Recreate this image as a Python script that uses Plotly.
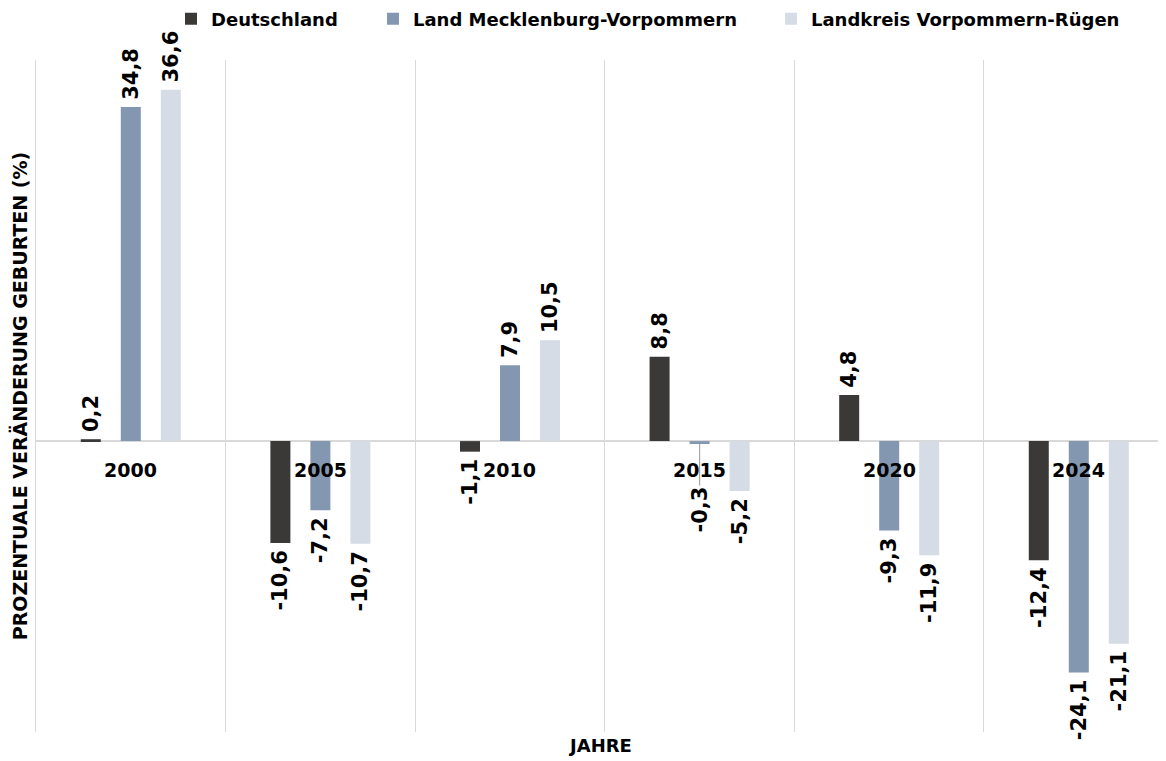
import plotly.graph_objects as go

years = ["2000", "2005", "2010", "2015", "2020", "2024"]
deutschland = [0.2, -10.6, -1.1, 8.8, 4.8, -12.4]
mecklenburg = [34.8, -7.2, 7.9, -0.3, -9.3, -24.1]
vorpommern = [36.6, -10.7, 10.5, -5.2, -11.9, -21.1]

series = [
    ("Deutschland", deutschland, "#3B3838", "legend"),
    ("Land Mecklenburg-Vorpommern", mecklenburg, "#8497B0", "legend2"),
    ("Landkreis Vorpommern-Rügen", vorpommern, "#D6DCE5", "legend3"),
]

FONT = "DejaVu Sans"
W, H = 1166, 761
THIN = "\u2009"
xpos = list(range(len(years)))
# label moved away from its bar with a leader line (as in the original)
moved_label = ("Land Mecklenburg-Vorpommern", 3)


def fmt(v):
    return f"{v:.1f}".replace(".", ",")


def label(v):
    s = fmt(v)
    return THIN + s if v >= 0 else s + THIN


fig = go.Figure()
for name, vals, color, lg in series:
    texts = [label(v) for v in vals]
    if name == moved_label[0]:
        texts[moved_label[1]] = ""
    fig.add_trace(go.Bar(
        name=name, x=xpos, y=vals,
        marker=dict(color=color, line=dict(width=0)),
        text=texts,
        textposition="outside", textangle=-90, constraintext="none",
        cliponaxis=False,
        textfont=dict(family=FONT, size=21, color="#000000", weight="bold"),
        legend=lg,
    ))

# moved label with leader line
mi = moved_label[1]
fig.add_annotation(x=xpos[mi], y=mecklenburg[mi], xref="x", yref="y",
                   text=fmt(mecklenburg[mi]), textangle=-90,
                   showarrow=True, arrowhead=0, arrowwidth=1.2, arrowcolor="#A6A6A6",
                   ax=0, ay=66, standoff=0,
                   font=dict(family=FONT, size=21, color="#000000", weight="bold"))

for i, y in enumerate(years):
    fig.add_annotation(x=i, y=0, xref="x", yref="y", text=y, showarrow=False,
                       yanchor="middle", yshift=-29,
                       font=dict(family=FONT, size=19, color="#000000", weight="bold"))

legend_common = dict(orientation="h", xref="container", yref="container",
                     xanchor="left", yanchor="middle", y=1 - 11 / H,
                     itemwidth=30, bgcolor="rgba(0,0,0,0)",
                     font=dict(family=FONT, size=18, color="#000000", weight="bold"))

fig.update_layout(
    width=W, height=H,
    margin=dict(l=28, r=8, t=52, b=37),
    paper_bgcolor="white", plot_bgcolor="white",
    barmode="group", bargap=0.367, bargroupgap=0.5,
    showlegend=True,
    legend=dict(x=163 / W, **legend_common),
    legend2=dict(x=365 / W, **legend_common),
    legend3=dict(x=763 / W, **legend_common),
    xaxis=dict(range=[-0.5, 5.46], tickvals=[-0.5, 0.5, 1.5, 2.5, 3.5, 4.5, 5.5],
               showticklabels=False, showgrid=True, gridcolor="#D9D9D9", gridwidth=1,
               zeroline=False, showline=False, ticks="",
               title=dict(text="JAHRE", standoff=7,
                          font=dict(family=FONT, size=18, color="#000000", weight="bold"))),
    yaxis=dict(range=[-30.3, 39.7], showticklabels=False, showgrid=False,
               showline=True, linecolor="#D9D9D9", linewidth=1,
               zeroline=True, zerolinecolor="#D9D9D9", zerolinewidth=1.5, ticks="",
               title=dict(text="PROZENTUALE VERÄNDERUNG GEBURTEN (%)", standoff=4,
                          font=dict(family=FONT, size=19, color="#000000", weight="bold"))),
)

fig.write_html("out.html")
